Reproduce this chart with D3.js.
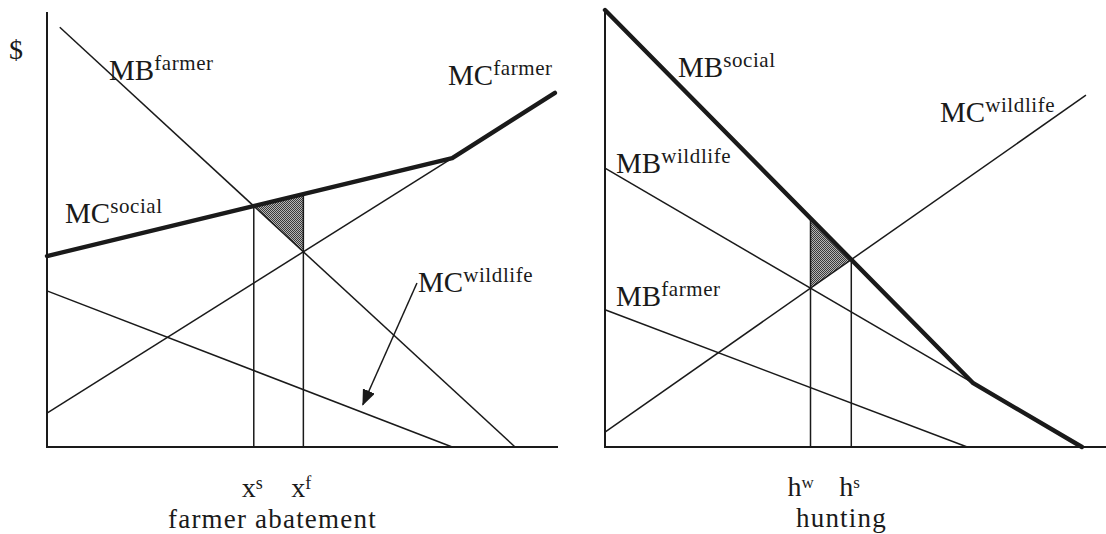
<!DOCTYPE html>
<html>
<head>
<meta charset="utf-8">
<script src="https://cdn.jsdelivr.net/npm/d3@7/dist/d3.min.js"></script>
<style>
  body { margin: 0; background: #fff; }
  svg text { font-family: "Liberation Serif", "Times New Roman", serif; fill: #1a1a1a; }
</style>
</head>
<body>
<div id="chart"></div>
<script>
// curves, in units of 0-100 on each panel
// left panel: farmer abatement
const mbFarmerL = [[2.5, 96.5], [91.6, 0]];
const mcSocialL = [[0, 43.9], [79.3, 66.4], [99.4, 81.4]];
const mcFarmerL = [[0, 7.8], [79.3, 66.4]];
const mcWildlifeL = [[0, 35.9], [79.3, 0]];
const arrowL = [[72.4, 37.7], [61.8, 9.7]];

// right panel: hunting
const mbSocialR = [[0, 100], [73.5, 14.6], [95.2, 0]];
const mbWildlifeR = [[0, 63.8], [73.5, 14.6]];
const mbFarmerR = [[0, 31.4], [72.3, 0]];
const mcWildlifeR = [[0, 3.4], [96, 80.5]];

const ink = "#1a1a1a";

const svg = d3.select("#chart").append("svg")
  .attr("width", 1106)
  .attr("height", 534);

// stipple pattern for the shaded triangles
const defs = svg.append("defs");
const pat = defs.append("pattern")
  .attr("id", "stipple")
  .attr("width", 2).attr("height", 2)
  .attr("patternUnits", "userSpaceOnUse");
pat.append("rect").attr("width", 2).attr("height", 2).attr("fill", "#b5b5b5");
pat.append("rect").attr("width", 1).attr("height", 1).attr("fill", "#3a3a3a");
pat.append("rect").attr("x", 1).attr("y", 1).attr("width", 1).attr("height", 1).attr("fill", "#3a3a3a");

defs.append("marker")
  .attr("id", "arrow")
  .attr("markerUnits", "userSpaceOnUse")
  .attr("viewBox", "0 0 16 13")
  .attr("markerWidth", 16).attr("markerHeight", 13)
  .attr("refX", 15).attr("refY", 6.5)
  .attr("orient", "auto")
  .append("path")
  .attr("d", "M0,0 L16,6.5 L0,13 Z")
  .attr("fill", ink);

// scales
const xL = d3.scaleLinear().domain([0, 100]).range([47, 558]);
const yL = d3.scaleLinear().domain([0, 100]).range([447, 12]);
const xR = d3.scaleLinear().domain([0, 100]).range([605, 1106]);
const yR = d3.scaleLinear().domain([0, 100]).range([447, 10]);

// where two straight segments cross (each given as two points)
function cross(a, b) {
  const [[x1, y1], [x2, y2]] = a;
  const [[x3, y3], [x4, y4]] = b;
  const m1 = (y2 - y1) / (x2 - x1), m2 = (y4 - y3) / (x4 - x3);
  const x = (y3 - y1 + m1 * x1 - m2 * x3) / (m1 - m2);
  return [x, y1 + m1 * (x - x1)];
}
function yAt(seg, x) {
  const [[x1, y1], [x2, y2]] = seg;
  return y1 + (y2 - y1) * (x - x1) / (x2 - x1);
}

function makePanel(x, y) {
  const g = svg.append("g");
  const line = d3.line().x(d => x(d[0])).y(d => y(d[1]));
  return { g, line };
}

// ---------- left panel ----------
const L = makePanel(xL, yL);
const sSeg = mcSocialL.slice(0, 2);
const ps = cross(mbFarmerL, sSeg);      // x^s
const pf = cross(mbFarmerL, mcFarmerL); // x^f

L.g.append("path")
  .attr("d", L.line([ps, [pf[0], yAt(sSeg, pf[0])], pf]) + "Z")
  .attr("fill", "url(#stipple)");

// axes
L.g.append("path")
  .attr("d", L.line([[0, 100], [0, 0], [100, 0]]))
  .attr("fill", "none").attr("stroke", ink).attr("stroke-width", 2);

[mbFarmerL, mcFarmerL, mcWildlifeL].forEach(d => {
  L.g.append("path").attr("d", L.line(d))
    .attr("fill", "none").attr("stroke", ink).attr("stroke-width", 1.5);
});

// drop lines
[[ps[0], ps[1]], [pf[0], yAt(sSeg, pf[0])]].forEach(p => {
  L.g.append("path").attr("d", L.line([p, [p[0], 0]]))
    .attr("fill", "none").attr("stroke", ink).attr("stroke-width", 1.5);
});

L.g.append("path").attr("d", L.line(mcSocialL))
  .attr("fill", "none").attr("stroke", ink).attr("stroke-width", 4.4)
  .attr("stroke-linecap", "round").attr("stroke-linejoin", "round");

L.g.append("path").attr("d", L.line(arrowL))
  .attr("fill", "none").attr("stroke", ink).attr("stroke-width", 1.5)
  .attr("marker-end", "url(#arrow)");

// ---------- right panel ----------
const R = makePanel(xR, yR);
const sSegR = mbSocialR.slice(0, 2);
const pw = cross(mcWildlifeR, mbWildlifeR); // h^w
const ph = cross(mcWildlifeR, sSegR);       // h^s

R.g.append("path")
  .attr("d", R.line([[pw[0], yAt(sSegR, pw[0])], ph, pw]) + "Z")
  .attr("fill", "url(#stipple)");

R.g.append("path")
  .attr("d", R.line([[0, 100], [0, 0], [100, 0]]))
  .attr("fill", "none").attr("stroke", ink).attr("stroke-width", 2);

[mbWildlifeR, mbFarmerR, mcWildlifeR].forEach(d => {
  R.g.append("path").attr("d", R.line(d))
    .attr("fill", "none").attr("stroke", ink).attr("stroke-width", 1.5);
});

[[pw[0], yAt(sSegR, pw[0])], ph].forEach(p => {
  R.g.append("path").attr("d", R.line([p, [p[0], 0]]))
    .attr("fill", "none").attr("stroke", ink).attr("stroke-width", 1.5);
});

R.g.append("path").attr("d", R.line(mbSocialR))
  .attr("fill", "none").attr("stroke", ink).attr("stroke-width", 4.4)
  .attr("stroke-linecap", "round").attr("stroke-linejoin", "round");

// ---------- labels ----------
function label(px, py, base, sup, size, supSize, rise) {
  const t = svg.append("text")
    .attr("x", px).attr("y", py)
    .attr("font-size", size);
  t.append("tspan").text(base);
  if (sup) {
    t.append("tspan")
      .attr("dy", -rise)
      .attr("font-size", supSize)
      .attr("letter-spacing", 0.6)
      .text(sup);
  }
  return t;
}

svg.append("text").attr("x", 9).attr("y", 59).attr("font-size", 28).text("$");

label(109, 80, "MB", "farmer", 29, 21, 10);
label(448, 85, "MC", "farmer", 29, 21, 10);
label(65, 223, "MC", "social", 29, 21, 10);
label(418, 292, "MC", "wildlife", 29, 21, 10);
label(xL(ps[0]) - 12, 497, "x", "s", 28, 18, 8);
label(xL(pf[0]) - 12, 497, "x", "f", 28, 18, 8);
svg.append("text").attr("x", 168).attr("y", 528).attr("font-size", 27)
  .attr("letter-spacing", 1.2).text("farmer abatement");

label(678, 77, "MB", "social", 29, 21, 10);
label(616, 173, "MB", "wildlife", 29, 21, 10);
label(616, 306, "MB", "farmer", 29, 21, 10);
label(940, 122, "MC", "wildlife", 29, 21, 10);
label(xR(pw[0]) - 23, 496, "h", "w", 28, 17, 8);
label(xR(ph[0]) - 12, 496, "h", "s", 28, 17, 8);
svg.append("text").attr("x", 796).attr("y", 527).attr("font-size", 27)
  .attr("letter-spacing", 1.2).text("hunting");
</script>
</body>
</html>
